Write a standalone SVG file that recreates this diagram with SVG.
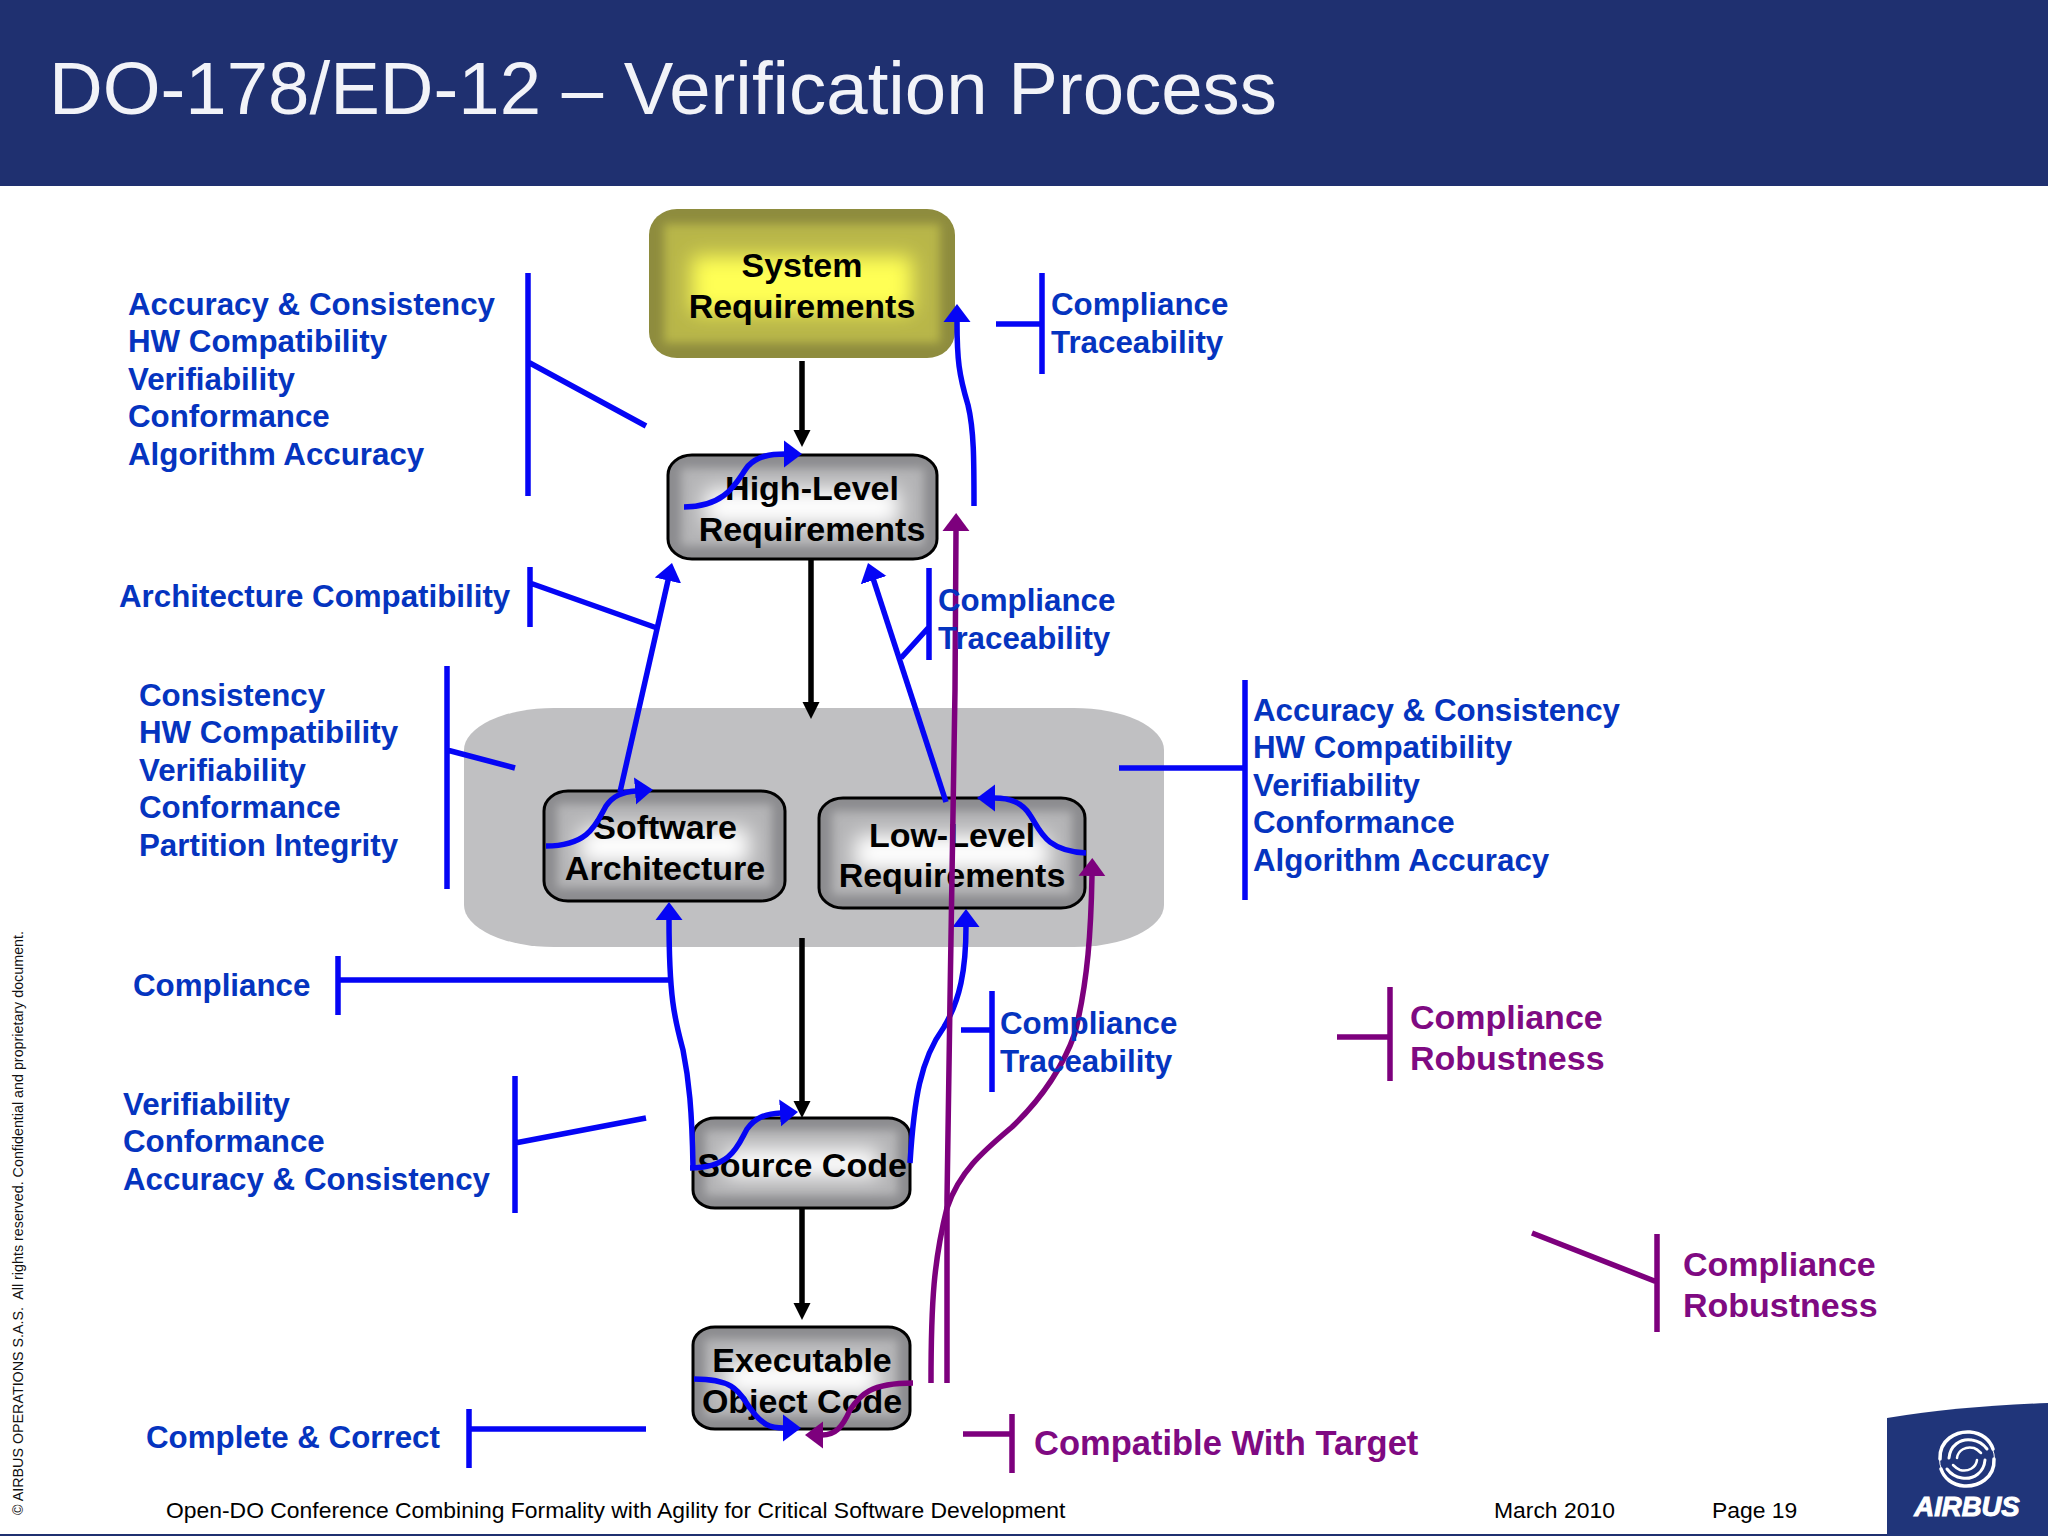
<svg xmlns="http://www.w3.org/2000/svg" width="2048" height="1536" viewBox="0 0 2048 1536">
<style>
.lb{font:bold 31.3px "Liberation Sans",Arial,sans-serif;fill:#0534bf}
.lp{font:bold 34px "Liberation Sans",Arial,sans-serif;fill:#7f0a82}
.nt{font:bold 34px "Liberation Sans",Arial,sans-serif;fill:#000;text-anchor:middle}
.ft{font:22.9px "Liberation Sans",Arial,sans-serif;fill:#000}
.b{fill:none;stroke:#0505f5;stroke-width:5.5}
.p{fill:none;stroke:#7d007d;stroke-width:5.5}
.k{fill:none;stroke:#000;stroke-width:5.5}
.gb{fill:#8c8c8f;stroke:#000;stroke-width:3}
.gm{fill:#b4b4b6;filter:url(#soft2)}
.gi{fill:#fff;filter:url(#soft)}
.aB{marker-end:url(#ahB)}
.aP{marker-end:url(#ahP)}
.aK{marker-end:url(#ahK)}
</style>
<defs>
<filter id="soft" x="-50%" y="-80%" width="200%" height="260%"><feGaussianBlur stdDeviation="10"/></filter>
<filter id="soft2" x="-30%" y="-40%" width="160%" height="180%"><feGaussianBlur stdDeviation="5"/></filter>
<marker id="ahB" markerUnits="userSpaceOnUse" markerWidth="20" markerHeight="30" refX="1" refY="14" orient="auto"><path d="M0 0.5L18 14L0 27.5Z" fill="#0505f5"/></marker>
<marker id="ahP" markerUnits="userSpaceOnUse" markerWidth="20" markerHeight="30" refX="1" refY="14" orient="auto"><path d="M0 0.5L18 14L0 27.5Z" fill="#7d007d"/></marker>
<marker id="ahK" markerUnits="userSpaceOnUse" markerWidth="20" markerHeight="20" refX="1" refY="9" orient="auto"><path d="M0 0.5L17 9L0 17.5Z" fill="#000"/></marker>
<clipPath id="cS"><rect x="649" y="209" width="306" height="149" rx="28" ry="26"/></clipPath>
<clipPath id="cH"><rect x="668" y="455" width="269" height="104" rx="24" ry="20"/></clipPath>
<clipPath id="cA"><rect x="544" y="791" width="241" height="110" rx="24" ry="20"/></clipPath>
<clipPath id="cL"><rect x="819" y="798" width="266" height="110" rx="24" ry="20"/></clipPath>
<clipPath id="cC"><rect x="693" y="1118" width="217" height="90" rx="22" ry="18"/></clipPath>
<clipPath id="cE"><rect x="693" y="1327" width="217" height="102" rx="22" ry="18"/></clipPath>
</defs>
<rect width="2048" height="1536" fill="#fff"/>
<rect width="2048" height="186" fill="#1f3070"/>
<text x="49" y="114" font-family="'Liberation Sans',Arial,sans-serif" font-size="74.4" fill="#f2f3f8">DO-178/ED-12 – Verification Process</text>

<rect id="group-background" x="464" y="708" width="700" height="239" rx="90" ry="42" fill="#c0c0c2"/>

<g id="node-system">
<rect x="649" y="209" width="306" height="149" rx="28" ry="26" fill="#8e8c3e"/>
<g clip-path="url(#cS)"><rect x="664" y="224" width="276" height="119" fill="#b8b648" filter="url(#soft2)"/><rect x="692" y="256" width="220" height="56" fill="#ffff55" filter="url(#soft)"/></g>
<text class="nt" x="802" y="277">System</text><text class="nt" x="802" y="318">Requirements</text>
</g>
<g id="node-hlr">
<rect class="gb" x="668" y="455" width="269" height="104" rx="24" ry="20"/>
<g clip-path="url(#cH)"><rect class="gm" x="681" y="468" width="243" height="78"/><rect class="gi" x="705" y="489" width="194" height="36"/></g>
<text class="nt" x="812" y="500">High-Level</text><text class="nt" x="812" y="541">Requirements</text>
</g>
<g id="node-sa">
<rect class="gb" x="544" y="791" width="241" height="110" rx="24" ry="20"/>
<g clip-path="url(#cA)"><rect class="gm" x="557" y="804" width="215" height="84"/><rect class="gi" x="580" y="828" width="169" height="36"/></g>
<text class="nt" x="665" y="839">Software</text><text class="nt" x="665" y="880">Architecture</text>
</g>
<g id="node-llr">
<rect class="gb" x="819" y="798" width="266" height="110" rx="24" ry="20"/>
<g clip-path="url(#cL)"><rect class="gm" x="832" y="811" width="240" height="84"/><rect class="gi" x="855" y="835" width="194" height="36"/></g>
<text class="nt" x="952" y="847">Low-Level</text><text class="nt" x="952" y="887">Requirements</text>
</g>
<g id="node-source">
<rect class="gb" x="693" y="1118" width="217" height="90" rx="22" ry="18"/>
<g clip-path="url(#cC)"><rect class="gm" x="705" y="1130" width="193" height="66"/><rect class="gi" x="725" y="1149" width="153" height="28"/></g>
<text class="nt" x="802" y="1177">Source Code</text>
</g>
<g id="node-exec">
<rect class="gb" x="693" y="1327" width="217" height="102" rx="22" ry="18"/>
<g clip-path="url(#cE)"><rect class="gm" x="705" y="1339" width="193" height="78"/><rect class="gi" x="725" y="1361" width="153" height="34"/></g>
<text class="nt" x="802" y="1372">Executable</text><text class="nt" x="802" y="1413">Object Code</text>
</g>

<g id="connectors">
<path class="k aK" d="M802 361V431"/>
<path class="k aK" d="M811 559V703"/>
<path class="k aK" d="M802 938V1102"/>
<path class="k aK" d="M802 1208V1304"/>

<path class="b aB" d="M684 507C728 507 737 480 748 466C758 456 770 454 785 454"/>
<path class="b aB" d="M974 506C974 460 974 430 968 405C959 375 957 360 957 321"/>
<path class="b aB" d="M620 792L668.2 579.6"/>
<path class="b aB" d="M946 802L873.3 579.2"/>
<path class="b aB" d="M546 846C590 846 597 822 606 806C613 796 622 792 636 791"/>
<path class="b aB" d="M1086 853C1045 851 1040 830 1030 815C1022 802 1010 798 994 798"/>
<path class="b aB" d="M693 1167C692 1110 689 1080 683 1050C675 1020 669 1000 669 919"/>
<path class="b aB" d="M690 1168C732 1168 738 1145 747 1129C755 1118 764 1114 781 1113"/>
<path class="b aB" d="M910 1163C914 1100 920 1060 944 1027C960 1000 966 970 966 926"/>
<path class="b aB" d="M694 1379C738 1379 740 1395 750 1408C762 1425 770 1428 784 1428"/>

<path class="p aP" d="M947 1383L947 1200L950 1000L955 690L956 530"/>
<path class="p aP" d="M931 1383C931 1300 934 1260 947 1208C960 1170 985 1150 1012 1127C1034 1106 1060 1075 1075 1033C1088 980 1091 930 1092 875"/>
<path class="p aP" d="M913 1383C870 1383 860 1395 850 1410C842 1428 835 1435 822 1435"/>

<path class="b" d="M528 273V496M528 362L646 426"/>
<path class="b" d="M530 567V627M530 583L657 628"/>
<path class="b" d="M447 666V889M447 750L515 768"/>
<path class="b" d="M338 956V1015M338 980H670"/>
<path class="b" d="M515 1076V1213M515 1143L646 1118"/>
<path class="b" d="M469 1409V1468M469 1429H646"/>
<path class="b" d="M1042 273V374M996 324H1042"/>
<path class="b" d="M929 568V660M929 627L901 658"/>
<path class="b" d="M1245 680V900M1119 768H1245"/>
<path class="b" d="M992 991V1092M961 1030H992"/>
<path class="p" d="M1390 987V1081M1337 1037H1390"/>
<path class="p" d="M1657 1234V1332M1657 1282L1532 1233"/>
<path class="p" d="M1012 1414V1473M963 1434H1012"/>
</g>

<g id="labels">
<text class="lb" x="128" y="315">Accuracy &amp; Consistency</text>
<text class="lb" x="128" y="352">HW Compatibility</text>
<text class="lb" x="128" y="390">Verifiability</text>
<text class="lb" x="128" y="427">Conformance</text>
<text class="lb" x="128" y="465">Algorithm Accuracy</text>
<text class="lb" x="119" y="607">Architecture Compatibility</text>
<text class="lb" x="139" y="706">Consistency</text>
<text class="lb" x="139" y="743">HW Compatibility</text>
<text class="lb" x="139" y="781">Verifiability</text>
<text class="lb" x="139" y="818">Conformance</text>
<text class="lb" x="139" y="856">Partition Integrity</text>
<text class="lb" x="133" y="996">Compliance</text>
<text class="lb" x="123" y="1115">Verifiability</text>
<text class="lb" x="123" y="1152">Conformance</text>
<text class="lb" x="123" y="1190">Accuracy &amp; Consistency</text>
<text class="lb" x="146" y="1448">Complete &amp; Correct</text>
<text class="lb" x="1051" y="315">Compliance</text>
<text class="lb" x="1051" y="353">Traceability</text>
<text class="lb" x="938" y="611">Compliance</text>
<text class="lb" x="938" y="649">Traceability</text>
<text class="lb" x="1253" y="721">Accuracy &amp; Consistency</text>
<text class="lb" x="1253" y="758">HW Compatibility</text>
<text class="lb" x="1253" y="796">Verifiability</text>
<text class="lb" x="1253" y="833">Conformance</text>
<text class="lb" x="1253" y="871">Algorithm Accuracy</text>
<text class="lb" x="1000" y="1034">Compliance</text>
<text class="lb" x="1000" y="1072">Traceability</text>
<text class="lp" x="1410" y="1029">Compliance</text>
<text class="lp" x="1410" y="1070">Robustness</text>
<text class="lp" x="1683" y="1276">Compliance</text>
<text class="lp" x="1683" y="1317">Robustness</text>
<text class="lp" x="1034" y="1455" style="font-size:34.5px">Compatible With Target</text>
</g>

<g id="footer">
<text class="ft" x="166" y="1518">Open-DO Conference Combining Formality with Agility for Critical Software Development</text>
<text class="ft" x="1494" y="1518">March 2010</text>
<text class="ft" x="1712" y="1518">Page 19</text>
<rect x="0" y="1534" width="1887" height="2" fill="#1f3070"/>
<text transform="translate(23 1515) rotate(-90)" font-family="'Liberation Sans',Arial,sans-serif" font-size="14.3" fill="#111" xml:space="preserve">© AIRBUS OPERATIONS S.A.S.  All rights reserved. Confidential and proprietary document.</text>
</g>

<g id="logo">
<path d="M1887 1418Q1960 1406 2048 1403V1536H1887Z" fill="#20357a"/>
<g fill="none" stroke="#fff" stroke-linecap="round">
<circle cx="1967" cy="1459" r="27.5" stroke-width="1"/>
<g id="swirl">
<path d="M1940 1459C1939 1440 1956 1431 1970 1432C1982 1433 1990 1440 1993 1449" stroke-width="3.5"/>
<path d="M1949 1458C1950 1446 1960 1438 1972 1440C1979 1441 1984 1445 1987 1449" stroke-width="3"/>
<path d="M1957 1458C1958 1450 1966 1446 1974 1448C1977 1449 1979 1451 1981 1453" stroke-width="2.5"/>
</g>
<g transform="rotate(180 1967 1459)">
<path d="M1940 1459C1939 1440 1956 1431 1970 1432C1982 1433 1990 1440 1993 1449" stroke-width="3.5"/>
<path d="M1949 1458C1950 1446 1960 1438 1972 1440C1979 1441 1984 1445 1987 1449" stroke-width="3"/>
<path d="M1957 1458C1958 1450 1966 1446 1974 1448C1977 1449 1979 1451 1981 1453" stroke-width="2.5"/>
</g>
</g>
<text x="1967" y="1516" text-anchor="middle" font-family="'Liberation Sans',Arial,sans-serif" font-size="27.5" font-weight="bold" font-style="italic" fill="#fff" stroke="#fff" stroke-width="1">AIRBUS</text>
</g>
</svg>
